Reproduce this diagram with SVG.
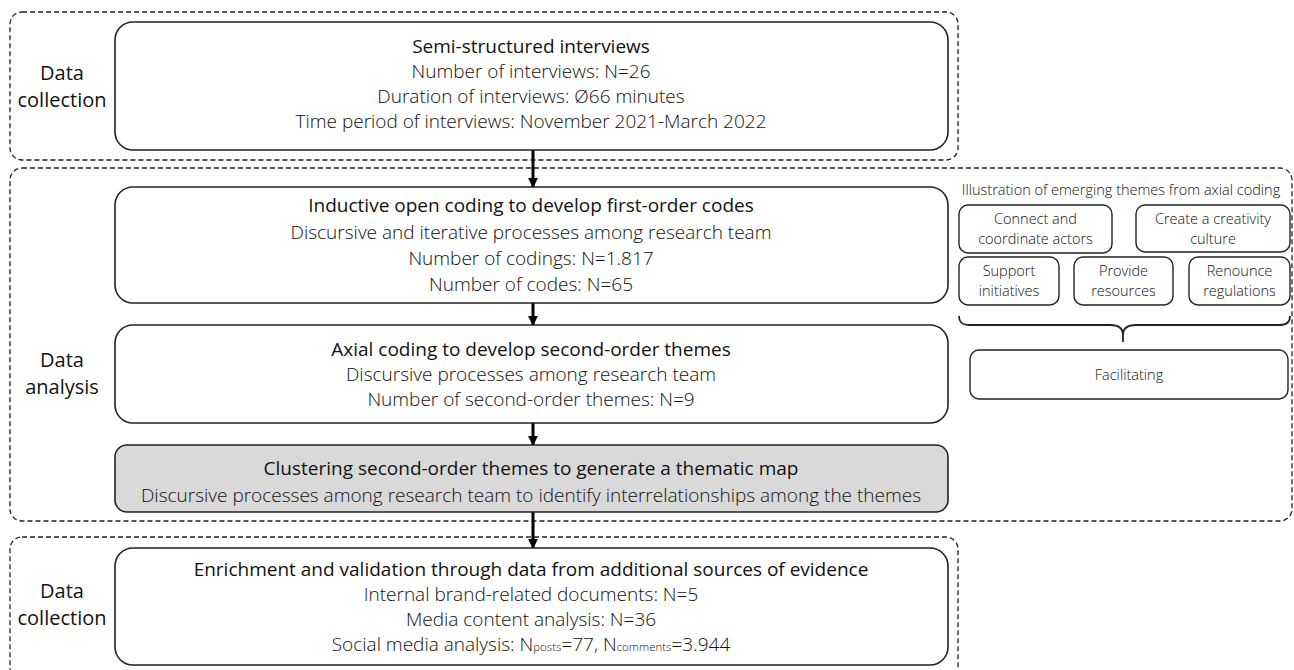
<svg xmlns="http://www.w3.org/2000/svg" width="1294" height="670" viewBox="0 0 1294 670">
<defs>
<style>
.frame{fill:none;stroke:#222;stroke-width:1.3;stroke-dasharray:5 3}
.box{fill:#fff;stroke:#222;stroke-width:1.6}
.grey{fill:#d9d9d9;stroke:#222;stroke-width:1.6}
.sbox{fill:#fff;stroke:#222;stroke-width:1.4}
text{font-family:"Open Sans","Noto Sans","DejaVu Sans",sans-serif;fill:#111;text-anchor:middle}
.t{font-size:19px;font-weight:400}
.b{font-size:19px;font-weight:300}
.lab{font-size:20px;font-weight:400}
.s{font-size:14.5px;font-weight:300}
.sub{font-size:11.5px}
.conn{stroke:#000;stroke-width:3;fill:none}
</style>
<marker id="ah" viewBox="0 0 10 10" refX="9" refY="5" markerWidth="3.3" markerHeight="3.3" orient="auto" markerUnits="strokeWidth">
<path d="M0,0 L10,5 L0,10 z" fill="#000"/>
</marker>
</defs>

<g id="frames">
<rect class="frame" x="10" y="12" width="948" height="148" rx="12"/>
<rect class="frame" x="10" y="168" width="1282" height="353" rx="12"/>
<rect class="frame" x="10" y="537" width="948" height="150" rx="12"/>
</g>

<g id="labels">
<text class="lab" x="62" y="80">Data</text>
<text class="lab" x="62" y="107">collection</text>
<text class="lab" x="62" y="367">Data</text>
<text class="lab" x="62" y="394">analysis</text>
<text class="lab" x="62" y="598">Data</text>
<text class="lab" x="62" y="625">collection</text>
</g>

<g id="connectors">
<line class="conn" x1="533" y1="150" x2="533" y2="187" marker-end="url(#ah)"/>
<line class="conn" x1="533" y1="303" x2="533" y2="325" marker-end="url(#ah)"/>
<line class="conn" x1="533" y1="423" x2="533" y2="445" marker-end="url(#ah)"/>
<line class="conn" x1="533" y1="512" x2="533" y2="548" marker-end="url(#ah)"/>
<path d="M959,316 C959,323 963,325 970,325 H1110 C1118,325 1123,328 1123,335 V342 M1123,335 C1123,328 1128,325 1136,325 H1280 C1287,325 1290,322 1290,316" fill="none" stroke="#222" stroke-width="1.8"/>
</g>

<g id="n-interviews">
<rect class="box" x="115" y="22" width="833" height="128" rx="18"/>
<text class="t" x="531" y="53">Semi-structured interviews</text>
<text class="b" x="531" y="78">Number of interviews: N=26</text>
<text class="b" x="531" y="103">Duration of interviews: Ø66 minutes</text>
<text class="b" x="531" y="128">Time period of interviews: November 2021-March 2022</text>
</g>

<g id="n-open-coding">
<rect class="box" x="115" y="187" width="833" height="116" rx="18"/>
<text class="t" x="531" y="212">Inductive open coding to develop first-order codes</text>
<text class="b" x="531" y="239">Discursive and iterative processes among research team</text>
<text class="b" x="531" y="265">Number of codings: N=1.817</text>
<text class="b" x="531" y="291">Number of codes: N=65</text>
</g>

<g id="n-axial-coding">
<rect class="box" x="115" y="325" width="833" height="98" rx="18"/>
<text class="t" x="531" y="356">Axial coding to develop second-order themes</text>
<text class="b" x="531" y="381">Discursive processes among research team</text>
<text class="b" x="531" y="406">Number of second-order themes: N=9</text>
</g>

<g id="n-clustering">
<rect class="grey" x="115" y="445" width="833" height="67" rx="12"/>
<text class="t" x="531" y="475">Clustering second-order themes to generate a thematic map</text>
<text class="b" x="531" y="502">Discursive processes among research team to identify interrelationships among the themes</text>
</g>

<g id="n-enrichment">
<rect class="box" x="115" y="548" width="833" height="117" rx="18"/>
<text class="t" x="531" y="576">Enrichment and validation through data from additional sources of evidence</text>
<text class="b" x="531" y="601">Internal brand-related documents: N=5</text>
<text class="b" x="531" y="626">Media content analysis: N=36</text>
<text class="b" x="531" y="651">Social media analysis: N<tspan class="sub">posts</tspan>=77, N<tspan class="sub">comments</tspan>=3.944</text>
</g>

<g id="panel-title">
<text class="s" x="1121" y="195">Illustration of emerging themes from axial coding</text>
</g>

<g id="t-connect">
<rect class="sbox" x="959" y="205" width="153" height="48" rx="9"/>
<text class="s" x="1035.5" y="224">Connect and</text>
<text class="s" x="1035.5" y="244">coordinate actors</text>
</g>
<g id="t-creativity">
<rect class="sbox" x="1136" y="205" width="154" height="47" rx="9"/>
<text class="s" x="1213" y="224">Create a creativity</text>
<text class="s" x="1213" y="244">culture</text>
</g>
<g id="t-support">
<rect class="sbox" x="959" y="257" width="100" height="48" rx="9"/>
<text class="s" x="1009" y="276">Support</text>
<text class="s" x="1009" y="296">initiatives</text>
</g>
<g id="t-resources">
<rect class="sbox" x="1074" y="257" width="99" height="48" rx="9"/>
<text class="s" x="1123.5" y="276">Provide</text>
<text class="s" x="1123.5" y="296">resources</text>
</g>
<g id="t-regulations">
<rect class="sbox" x="1189" y="257" width="101" height="48" rx="9"/>
<text class="s" x="1239.5" y="276">Renounce</text>
<text class="s" x="1239.5" y="296">regulations</text>
</g>
<g id="t-facilitating">
<rect class="sbox" x="970" y="350" width="318" height="49" rx="9"/>
<text class="s" x="1129" y="380">Facilitating</text>
</g>
</svg>
